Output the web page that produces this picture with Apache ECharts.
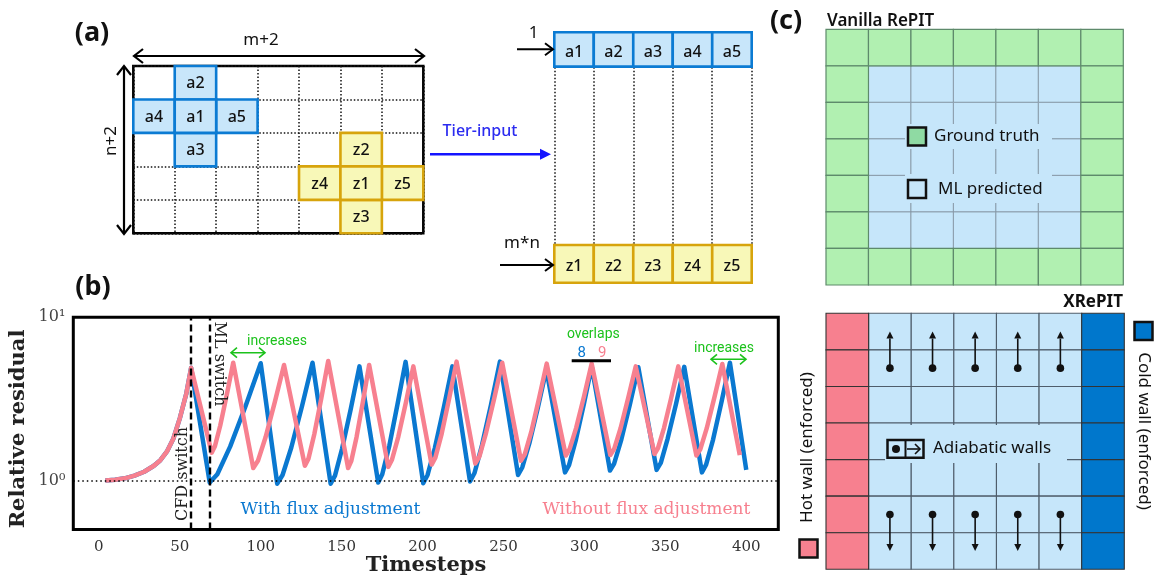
<!DOCTYPE html>
<html>
<head>
<meta charset="utf-8">
<script src="https://cdn.jsdelivr.net/npm/echarts@6.0.0/dist/echarts.min.js"></script>
<style>
html,body{margin:0;padding:0;background:#fff;}
#chart{width:1158px;height:582px;}
</style>
</head>
<body>
<div id="chart"></div>
<script>
// ===== Panel (b): relative residual vs timesteps =====
const withFluxSteps = [4,10,16,22,28,34,38,42,46,50,54,57,
  68.5,73.2,81.1,90.6,100,
  110.2,113.5,118.9,125.5,132,
  143.2,145.9,150.3,155.7,161,
  172.6,175.1,179.4,184.4,189.5,
  200.4,203.1,207.6,213,218.4,
  229.3,232.1,236.7,242.3,247.8,
  259,261.6,266,271.3,276.5,
  288,290.5,294.6,299.6,304.5,
  315.8,318.4,322.8,328.1,333.3,
  344.6,347.2,351.4,356.6,361.7,
  372.6,375.2,379.5,384.7,389.9,
  400];
const withFluxResidual = [1.00,1.01,1.03,1.07,1.13,1.23,1.33,1.50,1.80,2.40,3.40,4.90,
  0.97,1.09,1.61,2.85,5.23,
  0.955,1.08,1.59,2.85,5.27,
  0.955,1.07,1.57,2.76,5.0,
  0.97,1.09,1.62,2.89,5.33,
  0.96,1.08,1.58,2.76,5.0,
  0.985,1.11,1.64,2.91,5.35,
  1.08,1.20,1.69,2.81,4.8,
  1.12,1.24,1.75,2.92,5.0,
  1.15,1.27,1.78,2.92,4.94,
  1.16,1.28,1.80,2.94,4.97,
  1.12,1.25,1.78,3.02,5.27,
  1.16];
const withoutFluxSteps = [4,10,16,22,28,34,38,42,46,50,54,57,
  69.7,71.7,75,79,83,
  95.4,98.3,103,108.7,114.4,
  127.3,129.5,133.1,137.4,141.7,
  154,156,159.2,163.1,167,
  178.8,181.1,185,189.7,194.3,
  205.6,207.9,211.8,216.4,221,
  232.6,235.1,239.2,244.2,249.2,
  260.8,263.2,267.2,271.9,276.7,
  288.5,290.9,294.9,299.7,304.5,
  316,318.4,322.3,327,331.7,
  343.3,345.5,349.2,353.6,358,
  369.2,371.6,375.6,380.4,385.2,
  396];
const withoutFluxResidual = [1.00,1.01,1.03,1.07,1.13,1.23,1.33,1.50,1.80,2.40,3.40,4.90,
  1.48,1.62,2.17,3.34,5.27,
  1.19,1.32,1.84,3.02,5.1,
  1.23,1.36,1.92,3.17,5.4,
  1.19,1.32,1.84,3.02,5.1,
  1.21,1.34,1.85,3.00,5.0,
  1.25,1.38,1.93,3.17,5.35,
  1.27,1.40,1.95,3.16,5.27,
  1.32,1.45,1.99,3.17,5.2,
  1.42,1.56,2.10,3.26,5.2,
  1.43,1.56,2.08,3.19,5.0,
  1.45,1.58,2.10,3.20,5.0,
  1.42,1.55,2.09,3.25,5.17,
  1.43];
const cfdSwitchStep = 57;
const mlSwitchStep = 68.5;
const referenceResidual = 1;
const xTickValues = [0,50,100,150,200,250,300,350,400];
const yTickValues = [1,10];
const yTickLabels = ['10\u2070','10\u00b9'];

// ===== Panel (a): stencil and tier-input table =====
const stencilLabels = ['a2','a4','a5','a3','a1','z2','z4','z5','z3','z1'];
const stencilCols   = [1,0,2,1,1,5,4,6,5,5];
const stencilRows   = [0,1,1,2,1,2,3,3,4,3];
const tierTopLabels = ['a1','a2','a3','a4','a5'];
const tierBottomLabels = ['z1','z2','z3','z4','z5'];

// ===== Panel (c): cell maps (G ground truth, M ML predicted, H hot wall, C cold wall) =====
const vanillaCells = ['GGGGGGG','GMMMMMG','GMMMMMG','GMMMMMG','GMMMMMG','GMMMMMG','GGGGGGG'];
const xrepitCells  = ['HMMMMMC','HMMMMMC','HMMMMMC','HMMMMMC','HMMMMMC','HMMMMMC','HMMMMMC'];
const adiabaticCols = [1,2,3,4,5];
const adiabaticTop = [1,0];     // from row, to row
const adiabaticBottom = [5,6];

// ---------- styles ----------
const C_BLUE = '#0a78d0', C_PINK = '#f7808f', C_GREEN = '#1cc21c';
const BLUE_FILL = '#c8e6fa', BLUE_EDGE = '#0b7bd3';
const YEL_FILL = '#f8f8b8', YEL_EDGE = '#d7a40c';
const CELL_FILL = {G:'#b1f0b1', M:'#c6e6fa', H:'#f7808f', C:'#0077cc'};
const SANS = '"Noto Sans", "Open Sans", sans-serif';
const SERIF = '"DejaVu Serif", serif';

const pair = (xs, ys) => xs.map((x, i) => [x, ys[i]]);

function cellData(rows, order) {
  const out = [];
  order.forEach(k => rows.forEach((row, r) => row.split('').forEach((ch, c) => { if (ch === k) out.push([c, r, ch]); })));
  return out;
}
function cellSeries(gridIdx, rows, order, strokes, widths) {
  const data = cellData(rows, order);
  return {
    type: 'custom', coordinateSystem: 'cartesian2d', xAxisIndex: gridIdx, yAxisIndex: gridIdx, silent: true,
    data: data.map(d => [d[0], d[1]]),
    renderItem: (params, api) => {
      const c = api.value(0), r = api.value(1), k = data[params.dataIndex][2];
      const p0 = api.coord([c, r]), p1 = api.coord([c + 1, r + 1]);
      return { type: 'rect', shape: { x: p0[0], y: p0[1], width: p1[0] - p0[0], height: p1[1] - p0[1] },
        style: { fill: CELL_FILL[k], stroke: strokes[k], lineWidth: widths[k] } };
    }
  };
}

// ---------- graphic helpers ----------
const G = [];
function txt(x, y, text, font, fill, opt) {
  opt = opt || {};
  G.push({ type: 'text', x, y, rotation: opt.rot || 0, z: 30,
    style: { text, font, fill: fill || '#111', align: opt.align || 'center', verticalAlign: 'middle' } });
}
function seg(x1, y1, x2, y2, color, w, z) {
  G.push({ type: 'line', z: z || 25, shape: { x1, y1, x2, y2 }, style: { stroke: color, lineWidth: w, lineCap: 'butt' } });
}
function chevron(x, y, dx, dy, len, half, color, w, z) {
  const px = -dy, py = dx;
  G.push({ type: 'polyline', z: z || 25, shape: { points: [[x - dx * len + px * half, y - dy * len + py * half], [x, y], [x - dx * len - px * half, y - dy * len - py * half]] },
    style: { stroke: color, lineWidth: w, fill: null, lineJoin: 'miter' } });
}
function tri(x, y, dx, dy, len, half, color) {
  const px = -dy, py = dx;
  G.push({ type: 'polygon', z: 25, shape: { points: [[x, y], [x - dx * len + px * half, y - dy * len + py * half], [x - dx * len - px * half, y - dy * len - py * half]] },
    style: { fill: color } });
}
function box(x, y, w, h, fill, stroke, lw, z) {
  G.push({ type: 'rect', z: z || 26, shape: { x, y, width: w, height: h }, style: { fill, stroke: stroke || null, lineWidth: lw || 0 } });
}

// panel letters
txt(92, 33, '(a)', 'bold 27px ' + SANS, '#111');
txt(93, 287, '(b)', 'bold 27px ' + SANS, '#111');
txt(786, 21, '(c)', 'bold 27px ' + SANS, '#111');

// panel (a) annotations
txt(261, 40, 'm+2', '17px ' + SANS);
seg(134, 56, 424, 56, '#000', 2.2);
chevron(424, 56, 1, 0, 9, 7, '#000', 2.2);
chevron(134, 56, -1, 0, 9, 7, '#000', 2.2);
txt(111.5, 141, 'n+2', '17px ' + SANS, '#111', { rot: Math.PI / 2 });
seg(124, 66, 124, 234, '#000', 2.2);
chevron(124, 66, 0, -1, 9, 7, '#000', 2.2);
chevron(124, 234, 0, 1, 9, 7, '#000', 2.2);
txt(533.5, 33, '1', '17px ' + SANS);
seg(517, 49.3, 553, 49.3, '#000', 2);
chevron(553, 49.3, 1, 0, 8, 6, '#000', 2);
txt(522, 243, 'm*n', '17px ' + SANS);
seg(500, 265, 553, 265, '#000', 2);
chevron(553, 265, 1, 0, 8, 6, '#000', 2);
txt(480, 131, 'Tier-input', '500 16px ' + SANS, '#2b2bf0');
seg(430, 154.3, 541, 154.3, '#1414ff', 2.5);
tri(551, 154.3, 1, 0, 11, 5.5, '#1414ff');

// panel (b) annotations
txt(182.7, 474, 'CFD switch', '16px ' + SERIF, '#222', { rot: Math.PI / 2 });
txt(219, 364, 'ML switch', '16px ' + SERIF, '#222', { rot: -Math.PI / 2 });
txt(277, 341, 'increases', '14px Roboto', C_GREEN);
seg(231, 352.7, 265, 352.7, C_GREEN, 1.6);
chevron(231, 352.7, -1, 0, 6, 5, C_GREEN, 1.6);
chevron(265, 352.7, 1, 0, 6, 5, C_GREEN, 1.6);
txt(593.3, 334, 'overlaps', '14px Roboto', C_GREEN);
txt(581.7, 353, '8', '15px Roboto', C_BLUE);
txt(602.3, 353, '9', '15px Roboto', C_PINK);
seg(571.7, 360.7, 611, 360.7, '#000', 3);
txt(724, 348.3, 'increases', '14px Roboto', C_GREEN);
seg(711, 359.3, 746, 359.3, C_GREEN, 1.6);
chevron(711, 359.3, -1, 0, 6, 5, C_GREEN, 1.6);
chevron(746, 359.3, 1, 0, 6, 5, C_GREEN, 1.6);
txt(330.5, 509.3, 'With flux adjustment', '17px ' + SERIF, C_BLUE);
txt(646.3, 509.3, 'Without flux adjustment', '17px ' + SERIF, C_PINK);
txt(19, 429, 'Relative residual', 'bold 21px ' + SERIF, '#222', { rot: Math.PI / 2 });
txt(426, 566, 'Timesteps', 'bold 21px ' + SERIF, '#222');

// panel (c) annotations
txt(827, 21, 'Vanilla RePIT', '600 17px ' + SANS, '#111', { align: 'left' });
txt(1123, 302, 'XRePIT', 'bold 17px ' + SANS, '#111', { align: 'right' });
box(905, 124, 147, 25, CELL_FILL.M);
box(905, 174, 147, 29, CELL_FILL.M);
box(908, 127.5, 18, 18, '#8fdaa3', '#111', 2.5, 27);
txt(934, 136, 'Ground truth', '17px ' + SANS, '#111', { align: 'left' });
box(908, 180, 18, 18, CELL_FILL.M, '#111', 2.5, 27);
txt(938, 189, 'ML predicted', '17px ' + SANS, '#111', { align: 'left' });
box(885, 425, 182, 38, CELL_FILL.M);
box(887.5, 440, 36, 17.7, CELL_FILL.M, '#111', 2.5, 27);
seg(905.5, 440, 905.5, 457.7, '#111', 2, 28);
G.push({ type: 'circle', z: 28, shape: { cx: 896, cy: 449, r: 4 }, style: { fill: '#111' } });
seg(907, 449, 920, 449, '#111', 1.6, 28);
chevron(920, 449, 1, 0, 5, 5, '#111', 1.6, 28);
txt(933, 448, 'Adiabatic walls', '17px ' + SANS, '#111', { align: 'left' });
txt(807.5, 447.5, 'Hot wall (enforced)', '17px ' + SANS, '#111', { rot: Math.PI / 2 });
box(799.5, 539.5, 18, 18, CELL_FILL.H, '#111', 2.5, 27);
txt(1144, 431, 'Cold wall (enforced)', '17px ' + SANS, '#111', { rot: -Math.PI / 2 });
box(1134.5, 322, 18, 18, CELL_FILL.C, '#111', 2.5, 27);

// ---------- axes ----------
const hiddenAxis = (gi, min, max, extra) => Object.assign({
  gridIndex: gi, type: 'value', min, max, interval: 1,
  axisLine: { show: false }, axisTick: { show: false }, axisLabel: { show: false },
  splitLine: { show: false }
}, extra || {});
const dotted = { show: true, lineStyle: { type: [1.5, 2], color: '#111', width: 1.5 } };

const TIER_SPANS = [[0, 1], [6.2, 7.3]];

const option = {
  animation: false,
  grid: [
    { left: 73.3, top: 317.3, width: 705, height: 212.2, show: true, borderColor: '#000', borderWidth: 3, backgroundColor: 'rgba(0,0,0,0)' },
    { left: 133.3, top: 66, width: 290, height: 167.3, show: true, borderColor: '#000', borderWidth: 2.5, backgroundColor: 'rgba(0,0,0,0)' },
    { left: 554.3, top: 32.3, width: 197.4, height: 250.4 },
    { left: 826, top: 29.3, width: 297.3, height: 255.7 },
    { left: 826, top: 313.3, width: 298.3, height: 256 }
  ],
  xAxis: [
    { gridIndex: 0, type: 'value', min: -15.8, max: 419.8, splitNumber: 9, minInterval: 50, maxInterval: 50,
      axisLine: { show: false }, axisTick: { show: false }, splitLine: { show: false },
      axisLabel: { margin: 10, fontFamily: 'DejaVu Serif', fontSize: 15, color: '#333',
        formatter: v => xTickValues.indexOf(Math.round(v * 1000) / 1000) >= 0 ? String(Math.round(v)) : '' } },
    hiddenAxis(1, 0, 7, { splitLine: dotted }),
    hiddenAxis(2, 0, 5, { splitLine: dotted }),
    hiddenAxis(3, 0, 7),
    hiddenAxis(4, 0, 7)
  ],
  yAxis: [
    { gridIndex: 0, type: 'log', logBase: 10, min: 0.5, max: 10,
      axisLine: { show: false }, axisTick: { show: false }, splitLine: { show: false }, minorTick: { show: false },
      axisLabel: { margin: 8, fontFamily: 'DejaVu Serif', fontSize: 16, color: '#444',
        formatter: v => { for (let i = 0; i < yTickValues.length; i++) { if (Math.abs(v - yTickValues[i]) < 1e-6 * yTickValues[i]) return yTickLabels[i]; } return ''; } } },
    hiddenAxis(1, 0, 5, { inverse: true, splitLine: dotted }),
    hiddenAxis(2, 0, 7.3, { inverse: true }),
    hiddenAxis(3, 0, 7, { inverse: true }),
    hiddenAxis(4, 0, 7, { inverse: true })
  ],
  series: [
    { type: 'line', name: 'With flux adjustment', xAxisIndex: 0, yAxisIndex: 0, z: 3,
      data: pair(withFluxSteps, withFluxResidual), showSymbol: false, symbol: 'none',
      lineStyle: { color: C_BLUE, width: 4.5, join: 'round', cap: 'butt' },
      markLine: { silent: true, symbol: 'none', label: { show: false }, animation: false,
        lineStyle: { color: '#000', width: 2.4, type: [7, 4] },
        data: [ { xAxis: cfdSwitchStep }, { xAxis: mlSwitchStep },
          { yAxis: referenceResidual, lineStyle: { color: '#000', width: 1.5, type: [1.5, 3] } } ] } },
    { type: 'line', name: 'Without flux adjustment', xAxisIndex: 0, yAxisIndex: 0, z: 4,
      data: pair(withoutFluxSteps, withoutFluxResidual), showSymbol: false, symbol: 'none',
      lineStyle: { color: C_PINK, width: 4.5, join: 'round', cap: 'butt' } },
    // panel (a) stencil cells
    { type: 'custom', coordinateSystem: 'cartesian2d', xAxisIndex: 1, yAxisIndex: 1, silent: true, z: 5,
      data: stencilLabels.map((l, i) => [stencilCols[i], stencilRows[i]]),
      renderItem: (params, api) => {
        const c = api.value(0), r = api.value(1), label = stencilLabels[params.dataIndex];
        const p0 = api.coord([c, r]), p1 = api.coord([c + 1, r + 1]);
        const isA = label[0] === 'a';
        return { type: 'group', children: [
          { type: 'rect', shape: { x: p0[0], y: p0[1], width: p1[0] - p0[0], height: p1[1] - p0[1] },
            style: { fill: isA ? BLUE_FILL : YEL_FILL, stroke: isA ? BLUE_EDGE : YEL_EDGE, lineWidth: 2.6 } },
          { type: 'text', style: { text: label, x: (p0[0] + p1[0]) / 2, y: (p0[1] + p1[1]) / 2 + 1, align: 'center', verticalAlign: 'middle',
            font: '500 16px ' + SANS, fill: '#111' } } ] };
      } },
    // panel (a) tier-input table rows
    { type: 'custom', coordinateSystem: 'cartesian2d', xAxisIndex: 2, yAxisIndex: 2, silent: true, z: 5,
      data: tierTopLabels.map((l, i) => [i, 0]).concat(tierBottomLabels.map((l, i) => [i, 1])),
      renderItem: (params, api) => {
        const c = api.value(0), k = api.value(1), span = TIER_SPANS[k];
        const label = k === 0 ? tierTopLabels[c] : tierBottomLabels[c];
        const p0 = api.coord([c, span[0]]), p1 = api.coord([c + 1, span[1]]);
        return { type: 'group', children: [
          { type: 'rect', shape: { x: p0[0], y: p0[1], width: p1[0] - p0[0], height: p1[1] - p0[1] },
            style: { fill: k === 0 ? BLUE_FILL : YEL_FILL, stroke: k === 0 ? BLUE_EDGE : YEL_EDGE, lineWidth: 2.6 } },
          { type: 'text', style: { text: label, x: (p0[0] + p1[0]) / 2, y: (p0[1] + p1[1]) / 2 + 3, align: 'center', verticalAlign: 'middle',
            font: '500 16px ' + SANS, fill: '#111' } } ] };
      } },
    // panel (c) cells
    cellSeries(3, vanillaCells, ['M', 'G'], { G: '#5e8a6b', M: '#8797a6' }, { G: 1.2, M: 0.9 }),
    cellSeries(4, xrepitCells, ['M', 'H', 'C'], { M: '#4f5d6b', H: '#333', C: '#333' }, { M: 1.1, H: 1.1, C: 1.1 }),
    // panel (c) adiabatic arrows
    { type: 'custom', coordinateSystem: 'cartesian2d', xAxisIndex: 4, yAxisIndex: 4, silent: true, z: 6,
      data: adiabaticCols.map(c => [c, adiabaticTop[0], adiabaticTop[1]]).concat(adiabaticCols.map(c => [c, adiabaticBottom[0], adiabaticBottom[1]])),
      renderItem: (params, api) => {
        const c = api.value(0), r0 = api.value(1), r1 = api.value(2);
        const a = api.coord([c + 0.5, r0 + 0.5]), b = api.coord([c + 0.5, r1 + 0.5]);
        const dir = b[1] > a[1] ? 1 : -1, hl = 7, hw = 3.5;
        return { type: 'group', children: [
          { type: 'line', shape: { x1: a[0], y1: a[1], x2: b[0], y2: b[1] - dir * hl }, style: { stroke: '#111', lineWidth: 1.6 } },
          { type: 'circle', shape: { cx: a[0], cy: a[1], r: 3.8 }, style: { fill: '#111' } },
          { type: 'polygon', shape: { points: [[b[0], b[1]], [b[0] - hw, b[1] - dir * hl], [b[0] + hw, b[1] - dir * hl]] }, style: { fill: '#111' } } ] };
      } }
  ],
  graphic: G
};

const chart = echarts.init(document.getElementById('chart'), null, { renderer: 'canvas' });
chart.setOption(option);
</script>
</body>
</html>
